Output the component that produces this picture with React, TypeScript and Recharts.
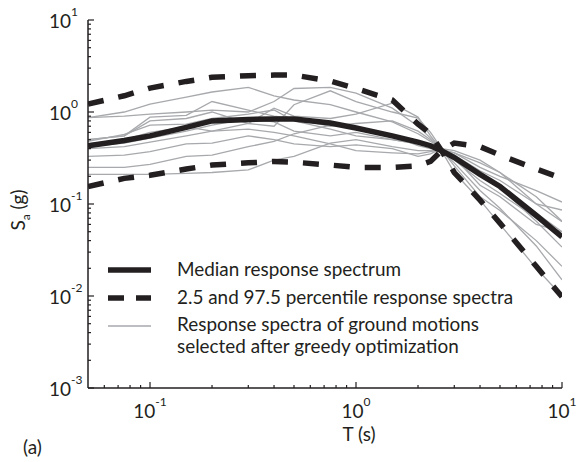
import React from "react";
import { LineChart, Line, XAxis, YAxis } from "recharts";

// Periods (s)
const periods = [0.05, 0.075, 0.1, 0.15, 0.2, 0.3, 0.4, 0.5, 0.75, 1, 1.5, 2, 2.3, 2.6, 3, 4, 5, 7.5, 10];

// Median and percentile spectra (g)
const median = [0.43, 0.49, 0.55, 0.68, 0.8, 0.83, 0.84, 0.84, 0.76, 0.67, 0.55, 0.47, 0.43, 0.38, 0.32, 0.21, 0.155, 0.075, 0.044];
const upper975 = [1.22, 1.5, 1.82, 2.15, 2.38, 2.48, 2.52, 2.52, 2.17, 1.8, 1.35, 0.74, 0.58, 0.38, 0.22, 0.11, 0.062, 0.021, 0.0098];
const lower25 = [0.155, 0.19, 0.205, 0.24, 0.265, 0.28, 0.29, 0.285, 0.265, 0.25, 0.25, 0.26, 0.29, 0.38, 0.46, 0.42, 0.34, 0.24, 0.19];

// Selected ground-motion spectra (g)
const gm1 = [0.87, 1.0, 1.22, 1.45, 1.65, 1.85, 1.5, 1.35, 1.2, 1.0, 0.78, 0.58, 0.48, 0.4, 0.34, 0.22, 0.16, 0.08, 0.05];
const gm2 = [0.87, 0.9, 0.95, 1.0, 1.05, 1.0, 1.3, 1.8, 1.85, 1.6, 1.1, 0.7, 0.52, 0.4, 0.38, 0.3, 0.22, 0.12, 0.065];
const gm3 = [0.5, 0.55, 0.88, 0.92, 1.3, 1.05, 0.9, 0.85, 0.7, 0.75, 0.8, 0.62, 0.5, 0.4, 0.3, 0.18, 0.13, 0.07, 0.044];
const gm4 = [0.5, 0.55, 0.8, 0.85, 1.0, 0.75, 0.7, 1.2, 1.7, 1.3, 1.0, 0.86, 0.6, 0.4, 0.33, 0.2, 0.15, 0.065, 0.034];
const gm5 = [0.48, 0.57, 0.72, 0.74, 0.85, 0.95, 1.05, 0.8, 0.65, 0.55, 0.5, 0.45, 0.42, 0.39, 0.36, 0.25, 0.2, 0.14, 0.105];
const gm6 = [0.45, 0.5, 0.6, 0.69, 0.62, 0.65, 0.6, 0.55, 0.45, 0.38, 0.36, 0.35, 0.37, 0.39, 0.34, 0.23, 0.18, 0.1, 0.086];
const gm7 = [0.42, 0.46, 0.52, 0.62, 0.72, 0.85, 0.78, 0.62, 0.55, 0.6, 0.5, 0.45, 0.42, 0.38, 0.28, 0.14, 0.09, 0.035, 0.015];
const gm8 = [0.33, 0.34, 0.37, 0.45, 0.46, 0.55, 0.5, 0.45, 0.42, 0.44, 0.4, 0.33, 0.35, 0.4, 0.32, 0.16, 0.12, 0.06, 0.05];
const gm9 = [0.25, 0.25, 0.27, 0.33, 0.34, 0.42, 0.48, 0.58, 0.72, 0.68, 0.55, 0.43, 0.4, 0.39, 0.26, 0.12, 0.085, 0.04, 0.021];
const gm10 = [0.21, 0.21, 0.21, 0.215, 0.22, 0.235, 0.3, 0.33, 0.46, 0.5, 0.42, 0.38, 0.38, 0.38, 0.22, 0.11, 0.06, 0.02, 0.01];
const gm11 = [0.4, 0.42, 0.47, 0.55, 0.62, 0.75, 1.1, 0.9, 0.85, 0.95, 1.25, 0.88, 0.55, 0.39, 0.36, 0.28, 0.22, 0.1, 0.064];

const groundMotions = [gm1, gm2, gm3, gm4, gm5, gm6, gm7, gm8, gm9, gm10, gm11];

// Axis ticks
const xTicks = [0.05, 0.06, 0.07, 0.08, 0.09, 0.1, 0.2, 0.3, 0.4, 0.5, 0.6, 0.7, 0.8, 0.9, 1, 2, 3, 4, 5, 6, 7, 8, 9, 10];
const yTicks = [
  0.001, 0.002, 0.003, 0.004, 0.005, 0.006, 0.007, 0.008, 0.009,
  0.01, 0.02, 0.03, 0.04, 0.05, 0.06, 0.07, 0.08, 0.09,
  0.1, 0.2, 0.3, 0.4, 0.5, 0.6, 0.7, 0.8, 0.9,
  1, 2, 3, 4, 5, 6, 7, 8, 9, 10,
];

const legendLabels = [
  "Median response spectrum",
  "2.5 and 97.5 percentile response spectra",
  "Response spectra of ground motions",
  "selected after greedy optimization",
];

const data = periods.map((t, i) => {
  const row: Record<string, number> = { t, median: median[i], upper: upper975[i], lower: lower25[i] };
  groundMotions.forEach((g, k) => {
    row["gm" + (k + 1)] = g[i];
  });
  return row;
});

const FONT = "Lato, 'Liberation Sans', sans-serif";
const INK = "#231f20";
const GRAY = "#a7a9ac";

const isMajor = (v: number) => Math.abs(Math.log10(v) - Math.round(Math.log10(v))) < 1e-6;

const XTick = (props: any) => {
  const { x, y, payload } = props;
  const v = payload.value;
  const major = isMajor(v);
  if (v === 0.05) return <g />;
  return (
    <g>
      <line x1={x} x2={x} y1={y} y2={y - (major ? 6 : 3)} stroke={INK} strokeWidth={1.2} />
      {major && (
        <text x={x} y={y + 30} textAnchor="middle" fontFamily={FONT} fontSize={19} fill={INK}>
          <tspan>10</tspan>
          <tspan fontSize={12} dy={-12}>{String(Math.round(Math.log10(v)))}</tspan>
        </text>
      )}
    </g>
  );
};

const YTick = (props: any) => {
  const { x, y, payload } = props;
  const v = payload.value;
  const major = isMajor(v);
  return (
    <g>
      <line x1={x} x2={x + (major ? 6 : 3)} y1={y} y2={y} stroke={INK} strokeWidth={1.2} />
      {major && (
        <text x={x - 39} y={y + 8} textAnchor="start" fontFamily={FONT} fontSize={19} fill={INK}>
          <tspan>10</tspan>
          <tspan fontSize={12} dy={-12}>{String(Math.round(Math.log10(v)))}</tspan>
        </text>
      )}
    </g>
  );
};

export default function App() {
  return (
    <div style={{ position: "absolute", left: 0, top: 0, width: 577, height: 462, background: "#fff" }}>
      <LineChart width={577} height={462} data={data} margin={{ top: 20, right: 15, bottom: 24, left: 28 }}>
        <XAxis
          dataKey="t"
          type="number"
          scale="log"
          domain={[0.05, 10]}
          allowDataOverflow
          ticks={xTicks}
          interval={0}
          height={50}
          tickSize={0}
          tickMargin={0}
          tickLine={false}
          axisLine={{ stroke: INK, strokeWidth: 1.5 }}
          tick={<XTick />}
        />
        <YAxis
          type="number"
          scale="log"
          domain={[0.001, 10]}
          allowDataOverflow
          ticks={yTicks}
          interval={0}
          width={60}
          tickSize={0}
          tickMargin={0}
          tickLine={false}
          axisLine={{ stroke: INK, strokeWidth: 1.5 }}
          tick={<YTick />}
        />
        {groundMotions.map((_, k) => (
          <Line
            key={k}
            dataKey={"gm" + (k + 1)}
            type="linear"
            stroke={GRAY}
            strokeWidth={1.3}
            dot={false}
            activeDot={false}
            isAnimationActive={false}
          />
        ))}
        <Line dataKey="upper" type="linear" stroke={INK} strokeWidth={5.5} strokeDasharray="16 15" dot={false} activeDot={false} isAnimationActive={false} />
        <Line dataKey="lower" type="linear" stroke={INK} strokeWidth={5.5} strokeDasharray="16 15" dot={false} activeDot={false} isAnimationActive={false} />
        <Line dataKey="median" type="linear" stroke={INK} strokeWidth={5.5} dot={false} activeDot={false} isAnimationActive={false} />
      </LineChart>

      <svg width={577} height={462} style={{ position: "absolute", left: 0, top: 0, pointerEvents: "none" }}>
        {/* Legend */}
        <line x1={108} x2={151} y1={270} y2={270} stroke={INK} strokeWidth={5.5} />
        <line x1={108} x2={151} y1={298} y2={298} stroke={INK} strokeWidth={5.5} strokeDasharray="16 12" />
        <line x1={108} x2={151} y1={326} y2={326} stroke={GRAY} strokeWidth={1.3} />
        <g fontFamily={FONT} fontSize={18.9} fill={INK}>
          <text x={177} y={276}>{legendLabels[0]}</text>
          <text x={177} y={304}>{legendLabels[1]}</text>
          <text x={177} y={331}>{legendLabels[2]}</text>
          <text x={177} y={353}>{legendLabels[3]}</text>
        </g>
        {/* Axis titles */}
        <text x={359} y={441} textAnchor="middle" fontFamily={FONT} fontSize={19} fill={INK}>T (s)</text>
        <text x={25} y={210} transform="rotate(-90 25 210)" textAnchor="middle" fontFamily={FONT} fontSize={19} fill={INK}>
          <tspan>S</tspan>
          <tspan fontSize={12} dy={5}>a</tspan>
          <tspan dy={-5}> (g)</tspan>
        </text>
        <text x={23} y={454} fontFamily={FONT} fontSize={19} fill={INK}>(a)</text>
      </svg>
    </div>
  );
}
